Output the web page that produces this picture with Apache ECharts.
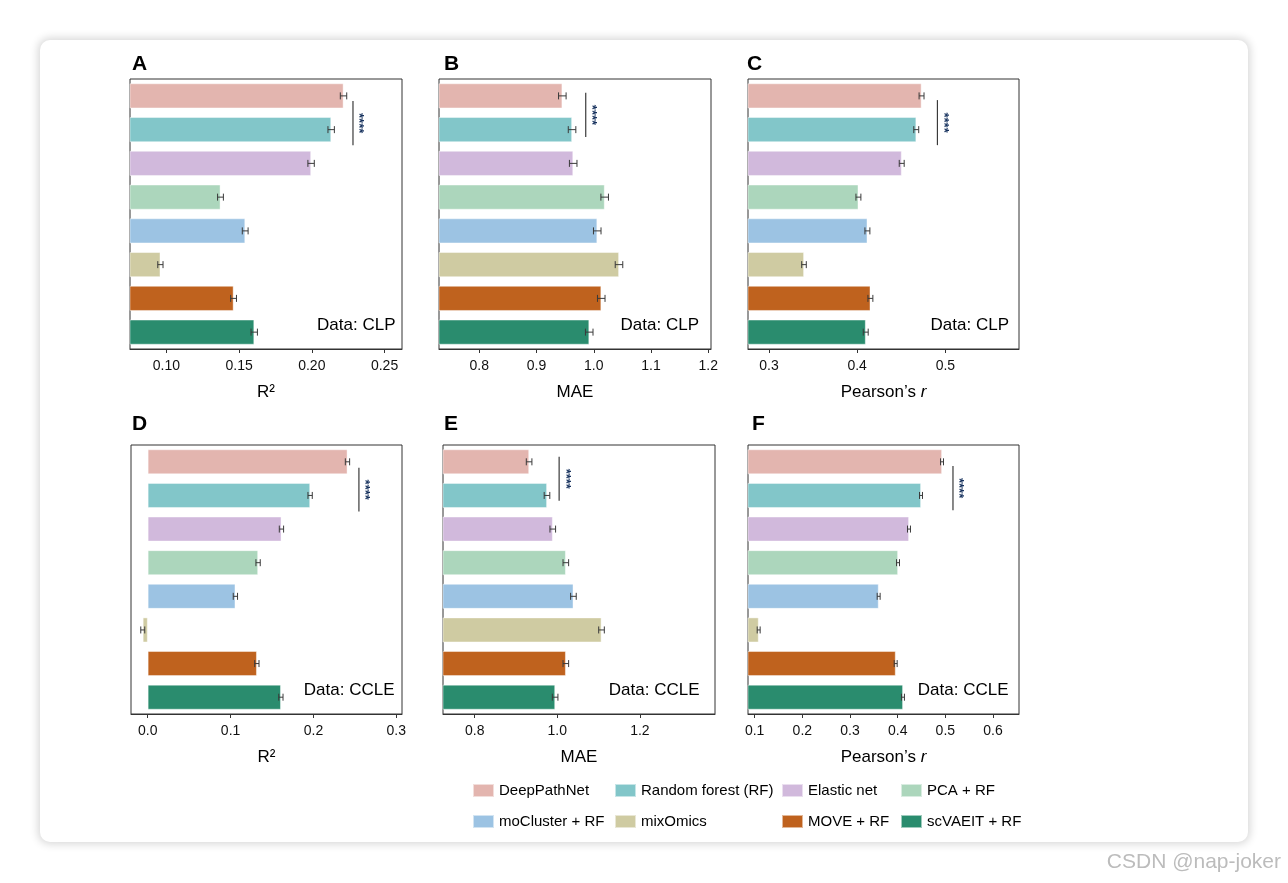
<!DOCTYPE html>
<html><head><meta charset="utf-8">
<script src="https://cdn.jsdelivr.net/npm/echarts@6/dist/echarts.min.js"></script>
<style>
html,body{margin:0;padding:0;background:#fff;}
#card{position:absolute;left:40px;top:40px;width:1208px;height:802px;border-radius:10px;background:#fff;box-shadow:0 0 9px 2px rgba(0,0,0,0.16);}
#chart{position:absolute;left:0;top:0;width:1288px;height:883px;}
</style></head><body>
<div id="card"></div><div id="chart"></div>
<script>
// ---- data ----
const methods = ['DeepPathNet','Random forest (RF)','Elastic net','PCA + RF','moCluster + RF','mixOmics','MOVE + RF','scVAEIT + RF'];
const colors = ['#e3b5af','#82c6c9','#d1b9dc','#acd6bc','#9cc3e3','#cfcba2','#bf621e','#2a8c6e'];

const clpR2   = [0.2218,0.2133,0.1995,0.1372,0.1542,0.0959,0.1462,0.1604];
const clpMAE  = [0.945,0.962,0.964,1.019,1.006,1.044,1.013,0.992];
const clpR    = [0.473,0.467,0.4505,0.4014,0.4116,0.3397,0.415,0.4097];
const ccleR2  = [0.2411,0.196,0.1614,0.1332,0.1058,-0.006,0.1317,0.1607];
const ccleMAE = [0.9317,0.975,0.989,1.0206,1.039,1.107,1.0206,0.9947];
const ccleR   = [0.493,0.4489,0.4237,0.4007,0.3601,0.1084,0.3958,0.4111];

const clpR2Err   = [0.0022,0.0022,0.0022,0.0020,0.0020,0.0018,0.0020,0.0022];
const clpMAEErr  = [0.0066,0.0066,0.0066,0.0066,0.0066,0.0066,0.0066,0.0066];
const clpRErr    = [0.0028,0.0028,0.0028,0.0028,0.0028,0.0026,0.0028,0.0028];
const ccleR2Err  = [0.0026,0.0026,0.0026,0.0026,0.0026,0.0024,0.0026,0.0026];
const ccleMAEErr = [0.0068,0.0068,0.0068,0.0068,0.0068,0.0068,0.0068,0.0068];
const ccleRErr   = [0.0031,0.0031,0.0031,0.0031,0.0031,0.0031,0.0031,0.0031];

const ticksR2CLP   = [0.10,0.15,0.20,0.25];
const ticksMAECLP  = [0.8,0.9,1.0,1.1,1.2];
const ticksRCLP    = [0.3,0.4,0.5];
const ticksR2CCLE  = [0.0,0.1,0.2,0.3];
const ticksMAECCLE = [0.8,1.0,1.2];
const ticksRCCLE   = [0.1,0.2,0.3,0.4,0.5,0.6];

// significance bracket: [x value, start offset, end offset] (in category bands from first bar)
const sigCLPR2   = [0.2283, 0.155, 1.46];
const sigCLPMAE  = [0.9859, -0.09, 1.22];
const sigCLPR    = [0.491, 0.125, 1.46];
const sigCCLER2  = [0.2549, 0.18, 1.48];
const sigCCLEMAE = [1.0044, -0.15, 1.16];
const sigCCLER   = [0.516, 0.125, 1.44];

// ---- layout ----
const FONT = 'Liberation Sans, Arial, Helvetica, sans-serif';
const panels = [
  {letter:'A', vals:clpR2, errs:clpR2Err, ticks:ticksR2CLP, min:0.075, max:0.262, dec:2, title:'R²', dataText:'Data: CLP', sig:sigCLPR2,
   grid:{left:130,top:79,width:272,height:270}, lx:132, ly:66, dr:6.5},
  {letter:'B', vals:clpMAE, errs:clpMAEErr, ticks:ticksMAECLP, min:0.7296, max:1.2047, dec:1, title:'MAE', dataText:'Data: CLP', sig:sigCLPMAE,
   grid:{left:439,top:79,width:272,height:270}, lx:444, ly:66, dr:12},
  {letter:'C', vals:clpR, errs:clpRErr, ticks:ticksRCLP, min:0.2762, max:0.5835, dec:1, title:'r', dataText:'Data: CLP', sig:sigCLPR,
   grid:{left:748,top:79,width:271,height:270}, lx:747, ly:66, dr:10},
  {letter:'D', vals:ccleR2, errs:ccleR2Err, ticks:ticksR2CCLE, min:-0.0202, max:0.3069, dec:1, title:'R²', dataText:'Data: CCLE', sig:sigCCLER2,
   grid:{left:131,top:445,width:271,height:269}, lx:132, ly:426, dr:7.5},
  {letter:'E', vals:ccleMAE, errs:ccleMAEErr, ticks:ticksMAECCLE, min:0.7232, max:1.3818, dec:1, title:'MAE', dataText:'Data: CCLE', sig:sigCCLEMAE,
   grid:{left:443,top:445,width:272,height:269}, lx:444, ly:426, dr:15.5},
  {letter:'F', vals:ccleR, errs:ccleRErr, ticks:ticksRCCLE, min:0.086, max:0.6545, dec:1, title:'r', dataText:'Data: CCLE', sig:sigCCLER,
   grid:{left:748,top:445,width:271,height:269}, lx:752, ly:426, dr:10.5}
];

const grids=[], xAxes=[], yAxes=[], series=[], graphics=[];
panels.forEach((p,pi)=>{
  grids.push(Object.assign({show:true, borderColor:'#333', borderWidth:1, backgroundColor:'transparent'}, p.grid));
  const isR = p.title==='r';
  xAxes.push({
    type:'value', gridIndex:pi, min:p.min, max:p.max,
    splitLine:{show:false},
    axisLine:{show:true, onZero:false, lineStyle:{color:'#333', width:1}},
    axisTick:{show:true, length:4, lineStyle:{color:'#333'}, customValues:p.ticks},
    axisLabel:{customValues:p.ticks, formatter:v=>Number(v).toFixed(p.dec), fontFamily:FONT, fontSize:14, color:'#111', margin:10},
    name: isR ? '{a|Pearson’s }{b|r}' : p.title,
    nameLocation:'middle', nameGap:35,
    nameTextStyle:{fontFamily:FONT, fontSize:17, color:'#000',
      rich:{a:{fontFamily:FONT, fontSize:17, color:'#000'}, b:{fontFamily:FONT, fontSize:17, fontStyle:'italic', color:'#000'}}}
  });
  yAxes.push({
    type:'category', gridIndex:pi, data:methods, inverse:true,
    axisLine:{show:false}, axisTick:{show:false}, axisLabel:{show:false}, splitLine:{show:false}
  });
  methods.forEach((m,i)=>{
    series.push({
      type:'bar', name:m, xAxisIndex:pi, yAxisIndex:pi,
      data: methods.map((_,j)=> j===i ? p.vals[i] : '-'),
      barGap:'-100%', barCategoryGap:'26%',
      itemStyle:{color:colors[i], borderColor:'rgba(255,255,255,0.55)', borderWidth:0.8},
      emphasis:{disabled:true}, animation:false, z:2
    });
  });
  series.push({
    type:'custom', xAxisIndex:pi, yAxisIndex:pi, animation:false, z:5,
    encode:{x:[0,1], y:2},
    data: p.vals.map((v,i)=>[v-p.errs[i], v+p.errs[i], i]),
    renderItem:(params, api)=>{
      const lo = api.coord([api.value(0), api.value(2)]);
      const hi = api.coord([api.value(1), api.value(2)]);
      const h = 3.5, st = {stroke:'#3a3a3a', lineWidth:1};
      return {type:'group', children:[
        {type:'line', shape:{x1:lo[0],y1:lo[1],x2:hi[0],y2:hi[1]}, style:st},
        {type:'line', shape:{x1:lo[0],y1:lo[1]-h,x2:lo[0],y2:lo[1]+h}, style:st},
        {type:'line', shape:{x1:hi[0],y1:hi[1]-h,x2:hi[0],y2:hi[1]+h}, style:st}
      ]};
    }
  });
  series.push({
    type:'custom', xAxisIndex:pi, yAxisIndex:pi, animation:false, z:6,
    encode:{x:0, y:1},
    data:[[p.sig[0], 0, p.sig[1], p.sig[2]]],
    renderItem:(params, api)=>{
      const c = api.coord([api.value(0), 0]);
      const band = api.size([0,1])[1];
      const y1 = c[1] + api.value(2)*band, y2 = c[1] + api.value(3)*band;
      return {type:'group', children:[
        {type:'line', shape:{x1:c[0],y1:y1,x2:c[0],y2:y2}, style:{stroke:'#3a3a3a', lineWidth:1.2}},
        {type:'text', x:c[0]+6, y:(y1+y2)/2, rotation:-Math.PI/2,
         style:{text:'****', font:'bold 13px '+FONT, fill:'#17325e', align:'center', verticalAlign:'middle'}}
      ]};
    }
  });
  graphics.push({type:'text', left:p.lx, top:p.ly-12, z:100,
    style:{text:p.letter, font:'bold 21px '+FONT, fill:'#000'}});
  graphics.push({type:'text', z:100,
    x:p.grid.left+p.grid.width-p.dr, y:p.grid.top+p.grid.height-24,
    style:{text:p.dataText, font:'17px '+FONT, fill:'#000', align:'right', verticalAlign:'middle'}});
});
graphics.push({type:'text', z:100, x:1281, y:862,
  style:{text:'CSDN @nap-joker', font:'21px '+FONT, fill:'#bcbcbc', align:'right', verticalAlign:'middle'}});

const legendCols = [
  {left:472, data:['DeepPathNet','moCluster + RF']},
  {left:614, data:['Random forest (RF)','mixOmics']},
  {left:781, data:['Elastic net','MOVE + RF']},
  {left:900, data:['PCA + RF','scVAEIT + RF']}
];
const legends = legendCols.map(c=>({
  orient:'vertical', left:c.left, top:782, data:c.data, icon:'rect', padding:0,
  itemWidth:21, itemHeight:13, itemGap:14, selectedMode:false,
  textStyle:{fontFamily:FONT, fontSize:15, color:'#000', lineHeight:17}
}));

const chart = echarts.init(document.getElementById('chart'), null, {renderer:'canvas'});
chart.setOption({
  backgroundColor:'transparent', animation:false,
  grid:grids, xAxis:xAxes, yAxis:yAxes, series:series, legend:legends, graphic:graphics
});
</script>
</body></html>
